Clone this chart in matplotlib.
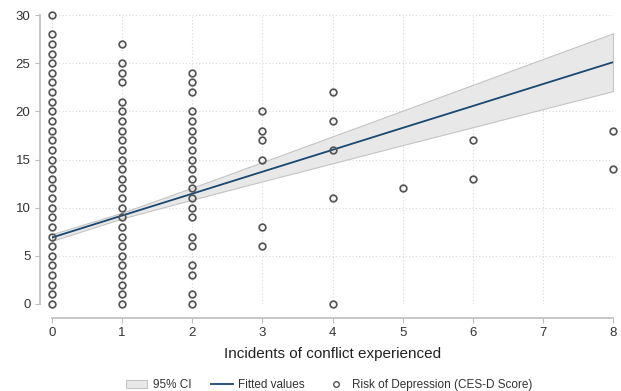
import numpy as np
import matplotlib
matplotlib.use("Agg")
import matplotlib.pyplot as plt
from matplotlib.patches import Patch
from matplotlib.lines import Line2D

plt.rcParams['font.family'] = ['Liberation Sans', 'DejaVu Sans']

# observed CES-D scores per number of conflict incidents
scores = {
    0: list(range(0, 29)) + [30],
    1: list(range(0, 22)) + [23, 24, 25, 27],
    2: [0, 1, 3, 4, 6, 7] + list(range(9, 21)) + [22, 23, 24],
    3: [6, 8, 15, 17, 18, 20],
    4: [0, 11, 16, 19, 22],
    5: [12],
    6: [13, 17],
    8: [14, 18],
}

# fitted line and 95% CI
fit_x = [0, 1, 2, 3, 4, 5, 6, 7, 8]
fit_y = [6.9, 9.18, 11.45, 13.73, 16.0, 18.28, 20.55, 22.83, 25.1]
ci_hi = [7.25, 9.48, 12.07, 14.73, 17.40, 20.07, 22.75, 25.43, 28.1]
ci_lo = [6.55, 8.88, 10.83, 12.73, 14.60, 16.49, 18.35, 20.23, 22.1]

fig = plt.figure(figsize=(6.21, 3.91), dpi=100)
ax = fig.add_axes([52 / 621, (391 - 304) / 391, (613 - 52) / 621, (304 - 15) / 391])

grid_c = '#d9d9d9'
for yv in range(0, 31, 5):
    ax.axhline(yv, color=grid_c, lw=0.8, ls=(0, (1, 2)), zorder=0)
for xv in range(0, 9):
    ax.axvline(xv, color=grid_c, lw=0.8, ls=(0, (1, 2)), zorder=0)

ax.fill_between(fit_x, ci_lo, ci_hi, facecolor='#e8e8e8', edgecolor='#c4c4c4',
                lw=0.8, zorder=1)
ax.plot(fit_x, fit_y, color='#1a476f', lw=1.3, zorder=2)

for k, vals in scores.items():
    ax.plot([k] * len(vals), vals, 'o', ms=4.8, mfc='none', mec='#555555',
            mew=1.25, clip_on=False, zorder=3)

ax.set_xlim(0, 8)
ax.set_ylim(0, 30)
ax.set_xticks(range(0, 9))
ax.set_yticks(range(0, 31, 5))

for s in ['top', 'right']:
    ax.spines[s].set_visible(False)
ax.spines['left'].set_position(('outward', 9))
ax.spines['bottom'].set_position(('outward', 10))
ax.spines['left'].set_bounds(0, 30)
ax.spines['bottom'].set_bounds(0, 8)
for s in ['left', 'bottom']:
    ax.spines[s].set_color('#bdbdbd')
    ax.spines[s].set_linewidth(1.2)
ax.tick_params(colors='#bdbdbd', labelcolor='#333333', labelsize=9.5,
               length=3.5, width=0.8, pad=3)

ax.set_xlabel('Incidents of conflict experienced', fontsize=11, color='#222222',
              labelpad=6)

handles = [Patch(facecolor='#e8e8e8', edgecolor='#c4c4c4', lw=0.8),
           Line2D([], [], color='#1a476f', lw=1.3),
           Line2D([], [], marker='o', ls='none', ms=4, mfc='none', mec='#555555', mew=1)]
labels = ['95% CI', 'Fitted values', 'Risk of Depression (CES-D Score)']
fig.legend(handles, labels, loc='center', bbox_to_anchor=(0.53, 1 - 385 / 391),
           ncol=3, frameon=False, fontsize=8.5, handlelength=1.8, columnspacing=1.7,
           handletextpad=0.5, labelcolor='#333333')

fig.savefig('out.png', dpi=100)
